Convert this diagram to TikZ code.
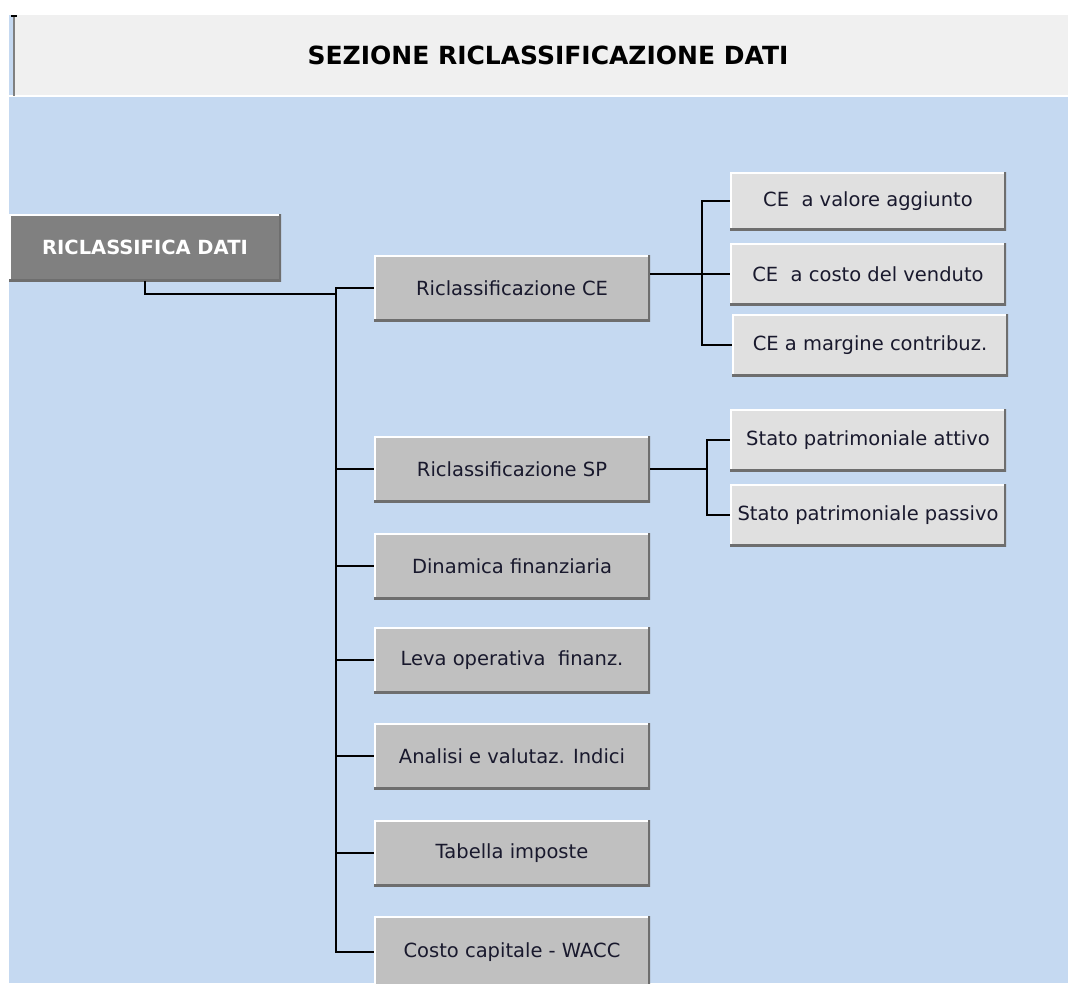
\documentclass[tikz,border=0pt]{standalone}
\usepackage{fontspec}
\setmainfont{DejaVu Sans}
\usepackage{color}
\definecolor{mysky}{RGB}{197,217,241}
\definecolor{mytitle}{RGB}{240,240,240}
\definecolor{mysilver}{RGB}{192,192,192}
\definecolor{mylight}{RGB}{224,224,224}
\definecolor{mydark}{RGB}{128,128,128}
\definecolor{myedge}{RGB}{110,110,110}
\definecolor{myink}{RGB}{25,25,45}
\usepackage{tikz}
\usetikzlibrary{calc,positioning}
\tikzstyle{button}=[fill=mysilver,minimum width=276pt,minimum height=66pt,inner sep=0pt,
  text=myink,font=\fontsize{19.5}{23}\selectfont,
  path picture={
    \draw[white,line width=4pt] (path picture bounding box.south west) |- (path picture bounding box.north east);
    \draw[myedge,line width=4pt] (path picture bounding box.south west) -| (path picture bounding box.north east);}]
\tikzstyle{subbutton}=[button,fill=mylight,minimum height=60pt]
\tikzstyle{link}=[draw=black,line width=1.6pt]

\begin{document}
\begin{tikzpicture}[x=1pt,y=-1pt]
\useasboundingbox (0,0) rectangle (1068,983);
\begin{scope}
\clip (0,0) rectangle (1068,983);
\fill[mysky] (9,15) rectangle (1068,983);
\fill[white] (9,95) rectangle (1068,97);
\fill[mytitle] (15,15) rectangle (1068,95);
\draw[mydark,line width=2.5pt] (14,17) -- (14,96);
\draw[black,line width=1.5pt] (11,16) -- (17,16);
\draw (548,55) node [font=\bfseries\fontsize{25}{29}\selectfont] (title) {SEZIONE RICLASSIFICAZIONE DATI};
\draw (145,247.5) node [button, fill=mydark, minimum width=272pt, minimum height=67pt, text=white,
  font=\bfseries\fontsize{19.5}{23}\selectfont] (main) {RICLASSIFICA DATI};
\draw (512,288) node [button] (ce) {Riclassificazione CE};
\draw (512,469) node [button] (sp) {Riclassificazione SP};
\draw (512,566) node [button] (din) {Dinamica finanziaria};
\draw (512,660) node [button] (leva) {Leva operativa\ \ finanz.};
\draw (512,756) node [button] (ind) {Analisi e valutaz. Indici};
\draw (512,853) node [button] (imp) {Tabella imposte};
\draw (512,952) node [button, minimum height=72pt] (wacc) {Costo capitale - WACC};
\draw (868,201) node [subbutton, minimum height=58pt] (ceva) {CE\ \ a valore aggiunto};
\draw (868,274) node [subbutton, minimum height=62pt] (cecv) {CE\ \ a costo del venduto};
\draw (870,345) node [subbutton, minimum height=62pt] (cemc) {CE a margine contribuz.};
\draw (868,440) node [subbutton, minimum height=62pt] (spa) {Stato patrimoniale attivo};
\draw (868,515) node [subbutton, minimum height=62pt] (spp) {Stato patrimoniale passivo};
% tree lines
\coordinate (trunk) at (336,294);
\coordinate (cej) at (702,0);
\coordinate (spj) at (707,0);
\draw[link] (main.south) |- (trunk);
\draw[link] (ce.west) -- (ce.west -| trunk) -- (wacc.west -| trunk) -- (wacc.west);
\draw[link] (sp.west) -- (sp.west -| trunk);
\draw[link] (din.west) -- (din.west -| trunk);
\draw[link] (leva.west) -- (leva.west -| trunk);
\draw[link] (ind.west) -- (ind.west -| trunk);
\draw[link] (imp.west) -- (imp.west -| trunk);
\draw[link] (ce.east |- cecv.west) -- (cecv.west);
\draw[link] (ceva.west) -- (ceva.west -| cej) -- (cemc.west -| cej) -- (cemc.west);
\draw[link] (sp.east) -- (sp.east -| spj);
\draw[link] (spa.west) -- (spa.west -| spj) -- (spp.west -| spj) -- (spp.west);
\end{scope}
\end{tikzpicture}
\end{document}
